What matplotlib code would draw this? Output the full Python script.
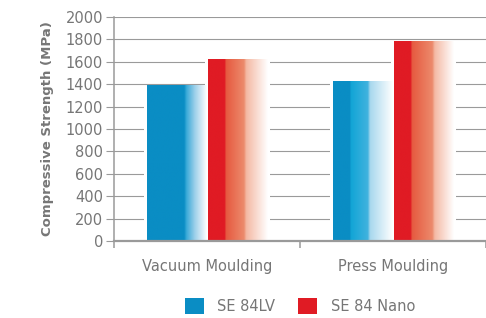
import numpy as np
import matplotlib
matplotlib.use("Agg")
import matplotlib.pyplot as plt
from matplotlib.colors import to_rgb, LinearSegmentedColormap
from matplotlib.patches import Patch

# ---- data ----
categories = ["Vacuum Moulding", "Press Moulding"]
series_names = ["SE 84LV", "SE 84 Nano"]
se84lv = [1385, 1425]
se84nano = [1625, 1785]
yticks = [0, 200, 400, 600, 800, 1000, 1200, 1400, 1600, 1800, 2000]

# ---- style ----
blue = "#0A8DC4"
red = "#E01B24"
grey_txt = "#767676"
grey_line = "#9a9a9a"

# gradient stops (position, colour) per bar, left -> right
blue_stops = [
    [(0.0, "#0A8DC4"), (0.62, "#0A8DC4"), (0.66, "#3AAAD8"), (0.80, "#9ED0EA"), (1.0, "#FFFFFF")],
    [(0.0, "#0A8DC4"), (0.28, "#0A8DC4"), (0.30, "#12A5D6"), (0.58, "#40B2DE"), (0.62, "#A8D8EE"), (1.0, "#FFFFFF")],
]
red_stops = [
    [(0.0, "#E01B24"), (0.28, "#E01B24"), (0.30, "#E65A40"), (0.60, "#EC8A6C"), (0.64, "#F4B9A4"), (1.0, "#FFFFFF")],
    [(0.0, "#E01B24"), (0.28, "#E01B24"), (0.30, "#E65A40"), (0.64, "#EC8A6C"), (0.68, "#F4B9A4"), (1.0, "#FFFFFF")],
]

W, H = 486, 318
fig = plt.figure(figsize=(W / 100, H / 100), dpi=100)
ax = fig.add_axes([114 / W, 77 / H, 1 - 114 / W, 224 / H])

x = np.arange(len(categories))
bw = 0.32
gap = 0.008


def grad_bar(x0, x1, h, stops):
    cmap = LinearSegmentedColormap.from_list("g", [(p, to_rgb(c)) for p, c in stops])
    grad = np.linspace(0, 1, 256)[None, :]
    # white mask (hides gridlines around the bar)
    pad = 0.016
    ax.add_patch(plt.Rectangle((x0 - pad, 0), (x1 - x0) + 2 * pad, h, facecolor="white",
                               edgecolor="none", zorder=2))
    ax.imshow(grad, cmap=cmap, extent=(x0, x1, 0, h), aspect="auto", zorder=3,
              interpolation="bilinear")


for i in range(len(categories)):
    grad_bar(x[i] - bw - gap / 2, x[i] - gap / 2, se84lv[i], blue_stops[i])
    grad_bar(x[i] + gap / 2, x[i] + bw + gap / 2, se84nano[i], red_stops[i])

ax.set_xlim(-0.5, 1.5)
ax.set_ylim(0, 2000)
ax.set_yticks(yticks)
ax.set_yticklabels([str(v) for v in yticks])
ax.yaxis.grid(True, color=grey_line, linewidth=0.8)
ax.set_axisbelow(True)

ax.set_xticks(x)
ax.set_xticklabels(categories)
ax.set_xticks([-0.5, 0.5, 1.5], minor=True)
ax.tick_params(axis="x", which="major", length=0, pad=13, labelsize=10.5, labelcolor=grey_txt)
ax.tick_params(axis="x", which="minor", length=5, width=1.1, color=grey_line, direction="out")
ax.tick_params(axis="y", length=6, width=0.8, color=grey_line, labelsize=10.5,
               labelcolor=grey_txt, pad=2)

for s in ["top", "right"]:
    ax.spines[s].set_visible(False)
ax.spines["left"].set_color(grey_line)
ax.spines["left"].set_linewidth(1.1)
ax.spines["bottom"].set_color(grey_line)
ax.spines["bottom"].set_linewidth(1.6)
ax.spines["bottom"].set_zorder(5)

ax.set_ylabel("Compressive Strength (MPa)", fontsize=9.5, fontweight="bold", color=grey_txt,
              labelpad=8)

handles = [Patch(facecolor=blue, edgecolor="none"), Patch(facecolor=red, edgecolor="none")]
fig.legend(handles, series_names, loc="center", bbox_to_anchor=(300 / W, 12 / H), ncol=2,
           frameon=False, fontsize=10.5, labelcolor=grey_txt, handlelength=1.3,
           handleheight=1.3, handletextpad=0.9, columnspacing=1.6, borderaxespad=0)

fig.savefig("out.png", dpi=100)
